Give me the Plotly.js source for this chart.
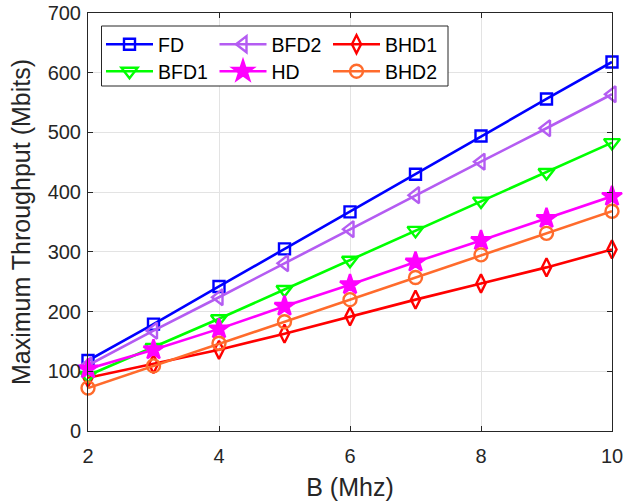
<!DOCTYPE html>
<html>
<head>
<meta charset="utf-8">
<script src="https://cdn.plot.ly/plotly-3.0.1.min.js"></script>
<style>html,body{margin:0;padding:0;background:#fff;}#chart{width:637px;height:501px;}</style>
</head>
<body>
<div id="chart"></div>
<script>
var bandwidth = [2, 3, 4, 5, 6, 7, 8, 9, 10];
var fd   = [118, 179, 242, 305, 367, 430, 494, 556, 618];
var bfd2 = [110, 168, 224, 281, 338, 395, 451, 507, 564];
var bfd1 = [93, 140, 188, 237, 286, 336, 385, 433, 483];
var hd   = [104, 136, 171, 209, 245, 283, 319, 356, 393];
var bhd1 = [89, 112, 136, 163, 192, 220, 247, 274, 304];
var bhd2 = [72, 109, 147, 183, 220, 257, 295, 331, 368];
var xTicks = [2, 4, 6, 8, 10];
var yTicks = [0, 100, 200, 300, 400, 500, 600, 700];

var seriesNames = ['FD', 'BFD2', 'BHD1', 'BFD1', 'HD', 'BHD2'];
var seriesValues = [fd, bfd2, bhd1, bfd1, hd, bhd2];
var seriesColors = ['#0000FF', '#B45CF2', '#FF0000', '#00FF00', '#FF00FF', '#FF6B2C'];
var seriesSymbols = ['square-open', 'triangle-left-open', 'diamond-tall-open', 'triangle-down-open', 'star', 'circle-open'];
var seriesSizes = [11, 14, 13, 14, 15, 13];
var seriesLegend = ['legend', 'legend', 'legend', 'legend2', 'legend2', 'legend2'];

var traces = seriesNames.map(function (n, i) {
  return {
    x: bandwidth, y: seriesValues[i], name: n, type: 'scatter', mode: 'lines+markers',
    legend: seriesLegend[i], legendrank: i,
    line: {color: seriesColors[i], width: 2.6},
    marker: {symbol: seriesSymbols[i], size: seriesSizes[i], color: seriesColors[i],
             line: {color: seriesColors[i], width: 2.4}},
    cliponaxis: false
  };
});

var FAM = 'Liberation Sans, Arial, sans-serif';
var tickFont = {family: FAM, size: 20, color: '#262626'};
var titleFont = {family: FAM, size: 25, color: '#262626'};
var L = 88, R = 25, T = 13, B = 70, W = 637, H = 501;
var pw = W - L - R, ph = H - T - B;
function px2x(p) { return (p - L) / pw; }
function py2y(p) { return (H - B - p) / ph; }

var legendBase = {
  orientation: 'h', xanchor: 'left', yanchor: 'top',
  bgcolor: 'rgba(0,0,0,0)', borderwidth: 0,
  entrywidth: 51.5, entrywidthmode: 'pixels', itemwidth: 47,
  font: {family: FAM, size: 19.5, color: '#000000'},
  traceorder: 'normal', tracegroupgap: 0
};
var leg1 = Object.assign({}, legendBase, {x: px2x(101), y: py2y(25)});
var leg2 = Object.assign({}, legendBase, {x: px2x(101), y: py2y(52)});

var layout = {
  width: W, height: H,
  margin: {l: L, r: R, t: T, b: B, pad: 0},
  paper_bgcolor: '#ffffff', plot_bgcolor: '#ffffff',
  font: tickFont,
  showlegend: true,
  xaxis: {
    range: [2, 10], tickvals: xTicks, ticktext: xTicks.map(String),
    showgrid: true, gridcolor: '#e3e3e3', gridwidth: 1, zeroline: false,
    showline: true, linecolor: '#262626', linewidth: 1, mirror: 'allticks',
    ticks: 'inside', ticklen: 5, tickcolor: '#262626', tickfont: tickFont,
    ticklabelstandoff: 7,
    title: {text: 'B (Mhz)', font: titleFont, standoff: 16}
  },
  yaxis: {
    range: [0, 700], tickvals: yTicks, ticktext: yTicks.map(String),
    showgrid: true, gridcolor: '#e3e3e3', gridwidth: 1, zeroline: false,
    showline: true, linecolor: '#262626', linewidth: 1, mirror: 'allticks',
    ticks: 'inside', ticklen: 5, tickcolor: '#262626', tickfont: tickFont,
    ticklabelstandoff: 2,
    title: {text: 'Maximum Throughput (Mbits)', font: titleFont, standoff: 9}
  },
  legend: leg1,
  legend2: leg2,
  shapes: [{
    type: 'rect', xref: 'paper', yref: 'paper', layer: 'above',
    x0: px2x(101.5), x1: px2x(448), y0: py2y(86), y1: py2y(26),
    line: {color: '#262626', width: 1}, fillcolor: '#ffffff'
  }]
};

Plotly.newPlot('chart', traces, layout, {displayModeBar: false, staticPlot: true});
</script>
</body>
</html>
